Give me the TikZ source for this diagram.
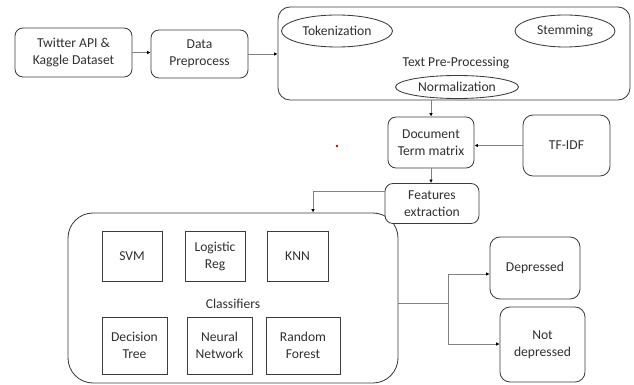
\documentclass[tikz,border=0pt]{standalone}
\usepackage{fontspec}
\setmainfont{Carlito}
\usetikzlibrary{arrows.meta,shapes.geometric}
\definecolor{edgecol}{HTML}{3C3C3C}
\definecolor{linkcol}{HTML}{808080}
\definecolor{txtcol}{HTML}{303030}
\tikzset{
  base/.style={draw=edgecol, line width=0.85pt, fill=white, text=txtcol,
    align=center, inner sep=1pt, font=\fontsize{13.6}{17}\selectfont},
  rbox/.style={base, rounded corners=8pt},
  sqbox/.style={base},
  oval/.style={base, ellipse},
  plain/.style={text=txtcol, align=center, font=\fontsize{13.6}{17}\selectfont},
  link/.style={draw=linkcol, line width=0.85pt,
    -{Latex[length=3.5pt,width=3.5pt,color=black]}},
  bare/.style={draw=linkcol, line width=0.85pt},
}
\begin{document}
\begin{tikzpicture}[x=1pt,y=-1pt]
\useasboundingbox (0,0) rectangle (634,385);

% input and preprocessing
\node[rbox, minimum width=117pt, minimum height=49pt] (src) at (73.5,52.5) {Twitter API \&\\Kaggle Dataset};
\node[rbox, minimum width=97pt, minimum height=48pt] (prep) at (199.5,54) {Data\\Preprocess};

% text pre-processing group
\node[rbox, rounded corners=12pt, minimum width=352pt, minimum height=93pt] (tpp) at (454,53.5) {};
\node[oval, minimum width=111pt, minimum height=32pt] (tok) at (337,31) {Tokenization};
\node[oval, minimum width=100pt, minimum height=32pt] (stem) at (565,31) {Stemming};
\node[plain] (tpplabel) at (456,63) {Text Pre-Processing};
\node[oval, minimum width=123pt, minimum height=23pt] (norm) at (457,87) {Normalization};

% term matrix and features
\node[rbox, minimum width=86pt, minimum height=51pt] (dtm) at (431,142.5) {Document\\Term matrix};
\node[rbox, rounded corners=10pt, minimum width=87pt, minimum height=61pt] (tfidf) at (566.5,145.5) {TF-IDF};
\fill[red!75!black] (337,146) circle (1.3pt);

% classifiers group
\node[rbox, rounded corners=25pt, minimum width=330pt, minimum height=170pt] (cls) at (233,298) {};
\node[rbox, minimum width=94pt, minimum height=40pt] (feat) at (432,203.5) {Features\\extraction};
\node[sqbox, minimum width=60pt, minimum height=50pt] (svm) at (132,256) {SVM};
\node[sqbox, minimum width=60pt, minimum height=50pt] (lr) at (215,256) {Logistic\\Reg};
\node[sqbox, minimum width=61pt, minimum height=50pt] (knn) at (297.5,256) {KNN};
\node[plain] (clslabel) at (233,304) {Classifiers};
\node[sqbox, minimum width=65pt, minimum height=57pt] (dt) at (134.5,345.5) {Decision\\Tree};
\node[sqbox, minimum width=65pt, minimum height=57pt] (nn) at (219.5,345.5) {Neural\\Network};
\node[sqbox, minimum width=74pt, minimum height=57pt] (rf) at (303,345.5) {Random\\Forest};

% outputs
\node[rbox, rounded corners=10pt, minimum width=90pt, minimum height=62pt] (dep) at (535,268) {Depressed};
\node[rbox, rounded corners=10pt, minimum width=85pt, minimum height=75pt] (ndep) at (542.5,344.5) {Not\\depressed};

% connectors
\draw[link] (src.east) -- (prep.west |- src.east);
\draw[link] (prep.east) -- (tpp.west |- prep.east);
\draw[link] (tpp.south -| dtm.north) -- (dtm.north);
\draw[link] (tfidf.west) -- (dtm.east |- tfidf.west);
\draw[link] (dtm.south) -- (feat.north -| dtm.south);
\coordinate (fturn) at (313,191);
\draw[link] (feat.west |- fturn) -- (fturn) -- (fturn |- cls.north);
\coordinate (split) at (448,303);
\draw[bare] (cls.east |- split) -- (split);
\draw[link] (split) -- (split |- 0,274) -- (dep.west |- 0,274);
\draw[link] (split) -- (split |- 0,344) -- (ndep.west |- 0,344);
\end{tikzpicture}
\end{document}
